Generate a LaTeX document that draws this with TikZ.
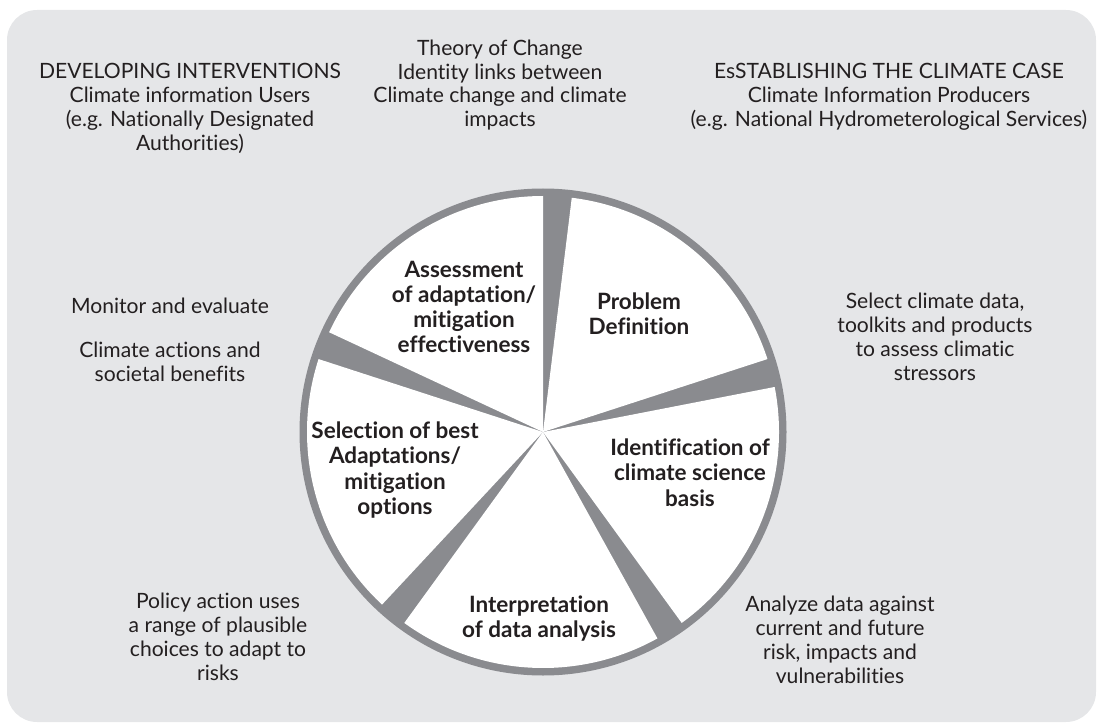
\documentclass[tikz,border=0pt]{standalone}
\usepackage{fontspec}
\setmainfont{Lato}[Ligatures=NoCommon]
\definecolor{panelgray}{RGB}{229,230,232}
\definecolor{ringgray}{RGB}{138,139,143}
\definecolor{inkgray}{RGB}{35,31,32}
\tikzset{
	note/.style={align=center, text=inkgray, font=\fontsize{12}{13.6}\selectfont},
	stage/.style={note, font=\fontsize{12.8}{14.4}\selectfont\bfseries}
}
\begin{document}
\begin{tikzpicture}
	\useasboundingbox (0,0) rectangle (21.96,14.48);
	% Background panel
	\fill[panelgray, rounded corners=0.6cm] (0.14,0.04) rectangle (21.92,14.28);

	% Wheel: grey disc, five white sectors
	\coordinate (hub) at (10.86,5.84);
	\fill[ringgray] (hub) circle (4.87);
	\foreach \a in {90,162,...,378}
		\fill[white] (hub) -- ++(\a:4.72) arc[start angle=\a, end angle=\a+65, radius=4.72] -- cycle;

	% Stages
	\node[stage] (assess) at (9.28,8.34) {Assessment\\of adaptation/\\mitigation\\effectiveness};
	\node[stage] (problem) at (12.78,8.21) {Problem\\Definition};
	\node[stage] (identify) at (13.8,5.03) {Identification of\\climate science\\basis};
	\node[stage] (interpret) at (10.78,2.11) {Interpretation\\of data analysis};
	\node[stage] (select) at (7.9,5.08) {Selection of best\\Adaptations/\\mitigation\\options};

	% Headings
	\node[note] (users) at (3.8,12.31) {DEVELOPING INTERVENTIONS\\Climate information Users\\(e.g. Nationally Designated\\Authorities)};
	\node[note] (theory) at (10.0,12.78) {Theory of Change\\Identity links between\\Climate change and climate\\impacts};
	\node[note] (producers) at (17.78,12.54) {EsSTABLISHING THE CLIMATE CASE\\Climate Information Producers\\(e.g. National Hydrometerological Services)};

	% Side notes
	\node[note] (monitor) at (3.4,8.36) {Monitor and evaluate};
	\node[note] (actions) at (3.4,7.25) {Climate actions and\\societal benefits};
	\node[note] (selectdata) at (18.7,7.75) {Select climate data,\\toolkits and products\\to assess climatic\\stressors};
	\node[note] (policy) at (4.36,1.74) {Policy action uses\\a range of plausible\\choices to adapt to\\risks};
	\node[note] (analyze) at (16.8,1.68) {Analyze data against\\current and future\\risk, impacts and\\vulnerabilities};
\end{tikzpicture}
\end{document}
